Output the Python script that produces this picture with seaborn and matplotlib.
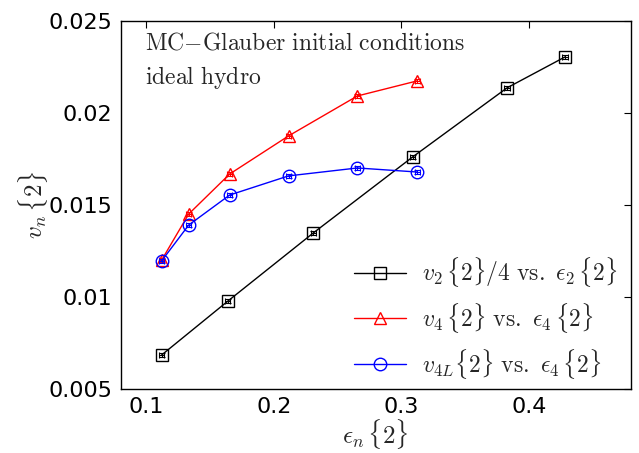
import matplotlib
matplotlib.use("Agg")
import matplotlib.pyplot as plt
import seaborn as sns
import pandas as pd

# eccentricity (x) and flow harmonic (y) values per centrality bin
eps2 = [0.112, 0.164, 0.231, 0.309, 0.383, 0.4285]
v2_over4 = [0.00685, 0.00978, 0.01348, 0.01761, 0.02136, 0.02304]

eps4 = [0.112, 0.1333, 0.1654, 0.2116, 0.2656, 0.3126]
v4 = [0.0120, 0.01451, 0.01668, 0.01875, 0.02092, 0.02174]
v4L = [0.01196, 0.01391, 0.01554, 0.01658, 0.01701, 0.01679]

# statistical uncertainties
v2_err = [0.00012, 0.00012, 0.00012, 0.00012, 0.00012, 0.00012]
v4_err = [0.00012, 0.00012, 0.00012, 0.00012, 0.00012, 0.00012]
v4L_err = [0.00012, 0.00012, 0.00012, 0.00012, 0.00012, 0.00012]
eps_err = [0.002, 0.002, 0.002, 0.002, 0.002, 0.002]

xticks = [0.1, 0.2, 0.3, 0.4]
yticks = [0.005, 0.01, 0.015, 0.02, 0.025]
ytick_labels = ["0.005", "0.01", "0.015", "0.02", "0.025"]

sns.set_style("white")
plt.rcParams["mathtext.fontset"] = "cm"
plt.rcParams["font.family"] = ["DejaVu Sans"]

fig = plt.figure(figsize=(6.39, 4.53), dpi=100)
ax = fig.add_axes([0.189, 0.141, 0.798, 0.813])

series = [
    (eps2, v2_over4, v2_err, "black", "s", 8.5,
     r"$v_2\,\{2\}/4\ \mathrm{vs.}\ \epsilon_2\,\{2\}$"),
    (eps4, v4, v4_err, "red", "^", 8.5,
     r"$v_4\,\{2\}\ \mathrm{vs.}\ \epsilon_4\,\{2\}$"),
    (eps4, v4L, v4L_err, "blue", "o", 9,
     r"$v_{4L}\{2\}\ \mathrm{vs.}\ \epsilon_4\,\{2\}$"),
]

for x, y, yerr, color, marker, ms, label in series:
    df = pd.DataFrame({"eps": x, "v": y})
    sns.lineplot(data=df, x="eps", y="v", ax=ax, color=color, marker=marker,
                 markersize=ms, markerfacecolor="none", markeredgecolor=color,
                 markeredgewidth=1.0, linewidth=1.0, label=label)
    ax.errorbar(x, y, yerr=yerr, xerr=eps_err[:len(x)], fmt="none",
                ecolor=color, elinewidth=0.8, capsize=2, capthick=0.8)

ax.set_xlim(0.08, 0.48)
ax.set_ylim(0.005, 0.025)
ax.set_xticks(xticks)
ax.set_xticklabels([f"{t:.1f}" for t in xticks])
ax.set_yticks(yticks)
ax.set_yticklabels(ytick_labels)
ax.tick_params(direction="in", length=5, width=0.8, top=True, right=True,
               labelsize=16, pad=6, colors="black")
for side in ax.spines.values():
    side.set_color("black")
    side.set_linewidth(1.0)

ax.set_xlabel(r"$\epsilon_n\,\{2\}$", fontsize=18, labelpad=0)
ax.set_ylabel(r"$v_n\,\{2\}$", fontsize=18, labelpad=-1)

ax.text(0.047, 0.942, r"$\mathrm{MC{-}Glauber\ initial\ conditions}$",
        transform=ax.transAxes, fontsize=17, va="center", ha="left")
ax.text(0.047, 0.845, r"$\mathrm{ideal\ hydro}$",
        transform=ax.transAxes, fontsize=17, va="center", ha="left")

ax.legend(loc="lower right", bbox_to_anchor=(1.0, -0.012), frameon=False,
          fontsize=17, numpoints=1, handlelength=2.2, labelspacing=0.5,
          borderaxespad=0.15, handletextpad=0.7)

fig.savefig("out.png", dpi=100)
